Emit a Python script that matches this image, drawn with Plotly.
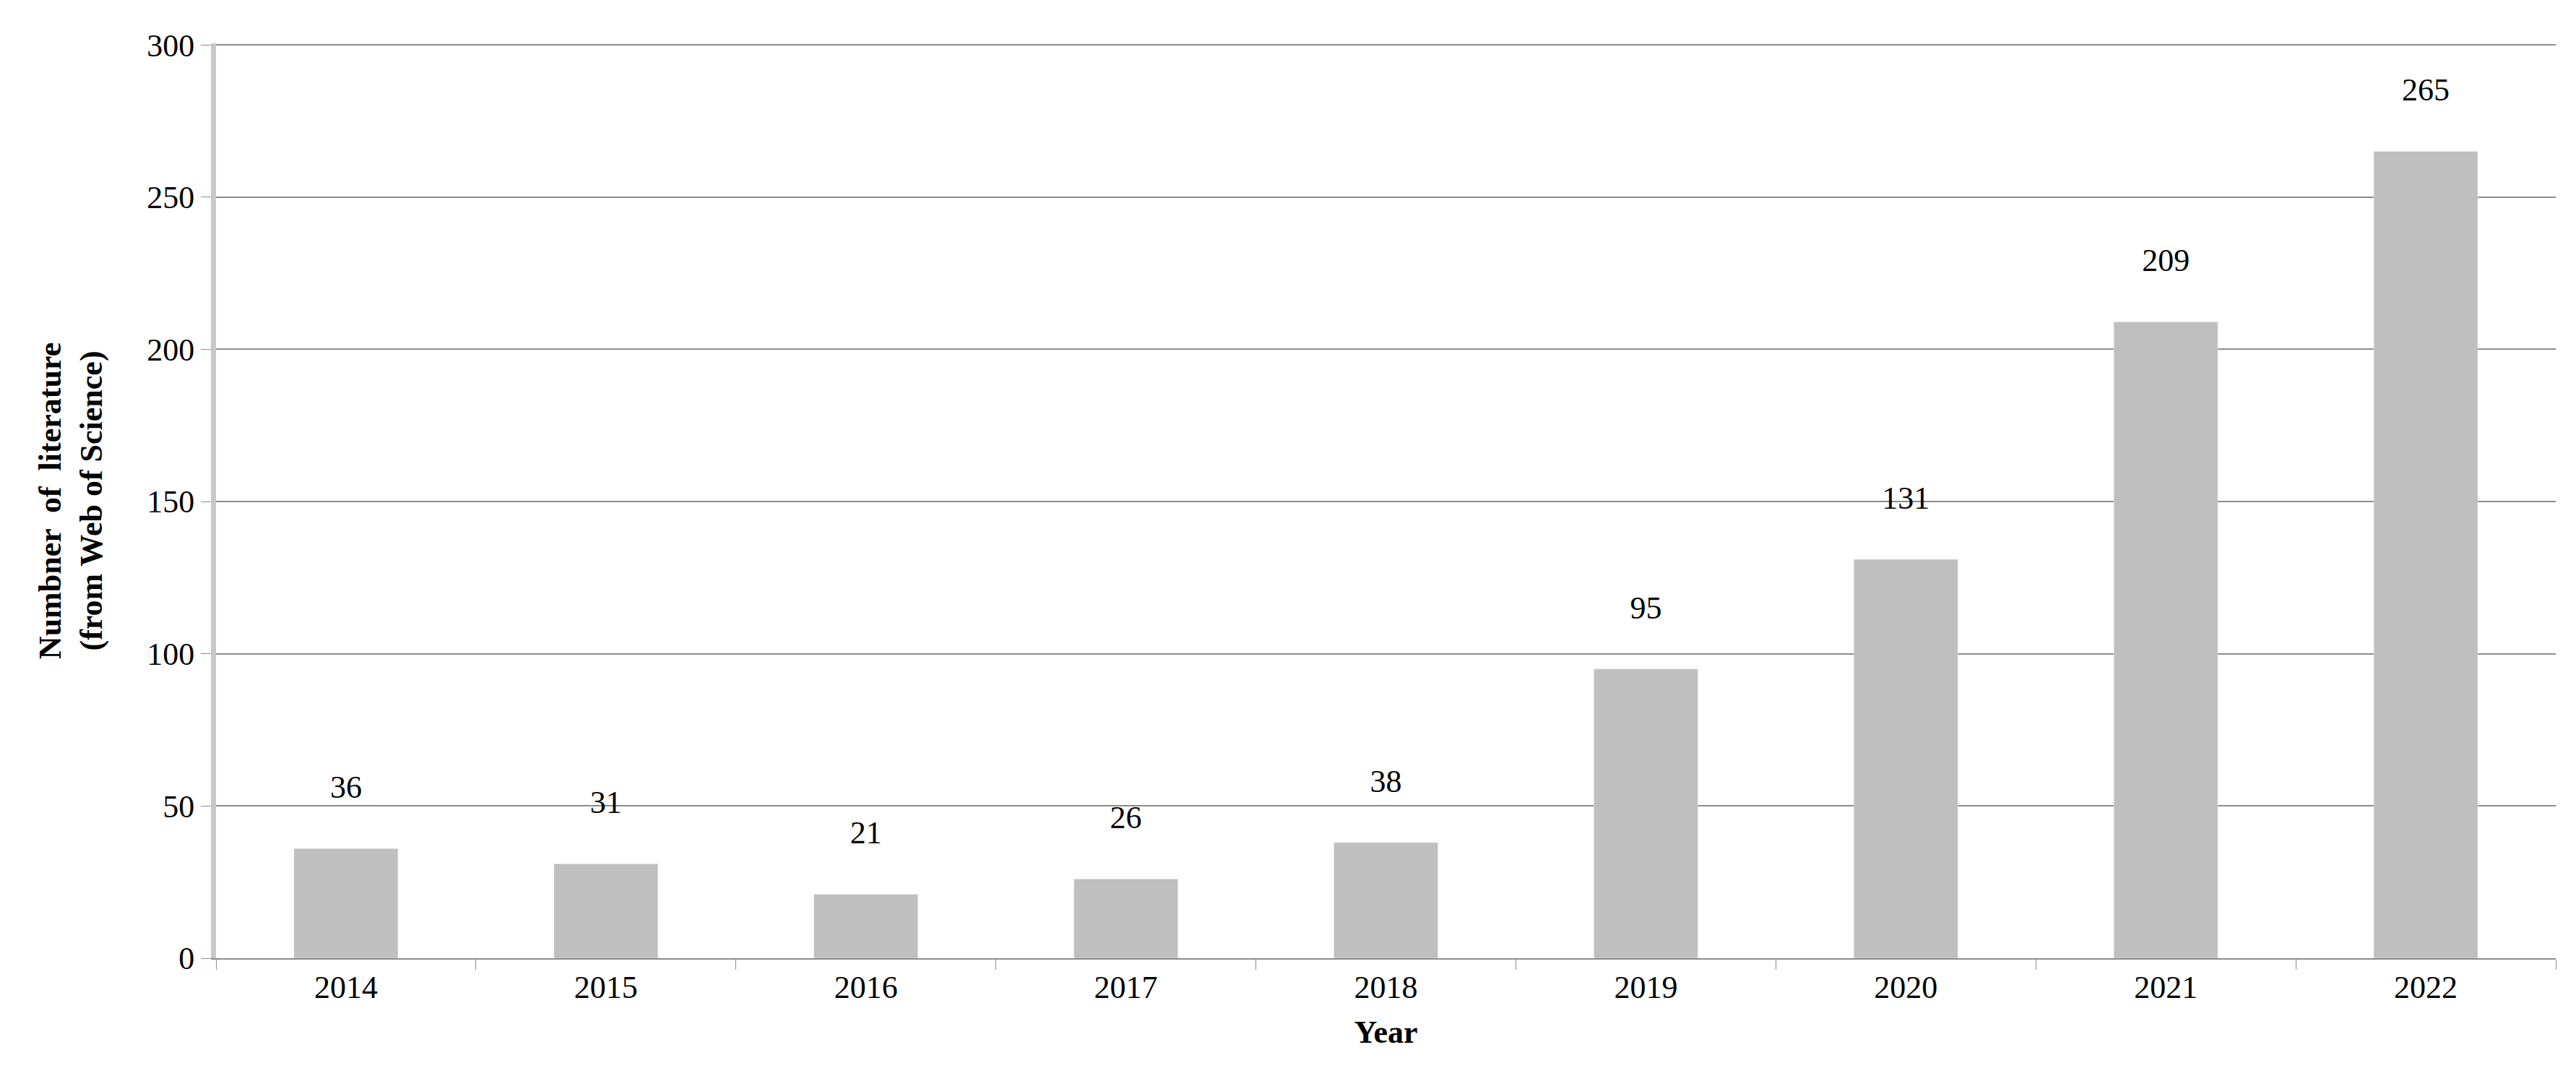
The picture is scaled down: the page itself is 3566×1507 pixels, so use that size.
import plotly.graph_objects as go

years = ["2014", "2015", "2016", "2017", "2018", "2019", "2020", "2021", "2022"]
counts = [36, 31, 21, 26, 38, 95, 131, 209, 265]
y_ticks = [0, 50, 100, 150, 200, 250, 300]

font = "Liberation Serif, Times New Roman, serif"

fig = go.Figure(
    go.Bar(
        x=years,
        y=counts,
        marker_color="#bfbfbf",
        text=counts,
        texttemplate="%{text}<br> ",
        textposition="outside",
        textfont=dict(family=font, size=44, color="black"),
        cliponaxis=False,
    )
)

fig.update_layout(
    width=3566,
    height=1507,
    paper_bgcolor="white",
    plot_bgcolor="white",
    margin=dict(l=291, r=36, t=52, b=189),
    bargap=0.6,
    showlegend=False,
    font=dict(family=font, color="black"),
)
fig.update_xaxes(
    type="category",
    tickfont=dict(size=44),
    showline=True,
    linecolor="#8c8c8c",
    linewidth=2,
    ticks="outside",
    tickson="boundaries",
    ticklen=14,
    tickcolor="#8c8c8c",
    title=dict(text="<b>Year</b>", font=dict(size=44), standoff=22),
)
fig.update_yaxes(
    range=[0, 300.5],
    tickvals=y_ticks,
    tickfont=dict(size=44),
    showgrid=True,
    gridcolor="#8c8c8c",
    gridwidth=2,
    showline=True,
    linecolor="#c8c8c8",
    linewidth=7,
    ticks="outside",
    ticklen=14,
    tickcolor="#8c8c8c",
    zeroline=False,
    title=dict(text="<b>Numbner  of  literature<br>(from Web of Science)</b>", font=dict(size=44), standoff=50),
)

fig.write_html("out.html")
